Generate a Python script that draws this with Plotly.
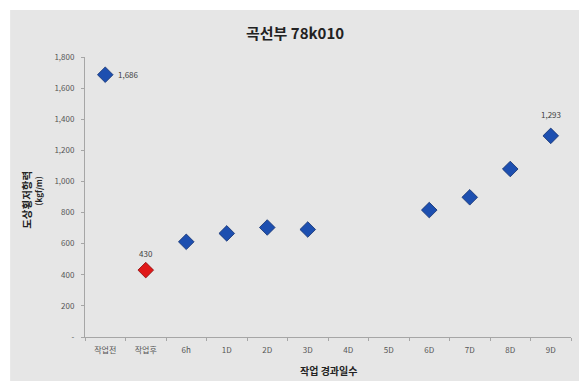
import plotly.graph_objects as go

# Lateral resistance of ballast at curve section 78k010, by elapsed time after work
categories = ["작업전", "작업후", "6h", "1D", "2D", "3D", "4D", "5D", "6D", "7D", "8D", "9D"]
values = [1686, 430, 612, 666, 704, 691, None, None, 816, 898, 1080, 1293]
highlight_colors = {"작업후": "#e01818"}
# value labels: category -> (x offset px, y offset px, anchor)
value_labels = {"작업전": (11, 0, "left"), "작업후": (0, 17, "center"), "9D": (0, 21, "center")}

y_tickvals = [0, 200, 400, 600, 800, 1000, 1200, 1400, 1600, 1800]
y_ticktext = ["-" if v == 0 else f"{v:,}" for v in y_tickvals]

KFONT = "Noto Sans CJK KR, Noto Sans, sans-serif"

xs, ys, colors, lines = [], [], [], []
for c, v in zip(categories, values):
    if v is None:
        continue
    xs.append(c)
    ys.append(v)
    colors.append(highlight_colors.get(c, "#1d4fb0"))
    lines.append("#8a0c0c" if c in highlight_colors else "#12306e")

fig = go.Figure()
fig.add_trace(go.Scatter(
    x=xs, y=ys, mode="markers",
    marker=dict(symbol="diamond", size=12, color=colors,
                line=dict(color=lines, width=0.8)),
    cliponaxis=False, showlegend=False,
))

annotations = [
    dict(text="<b>곡선부 78k010</b>", xref="paper", yref="paper",
         x=0.432, y=1.089, xanchor="center", yanchor="middle", showarrow=False,
         font=dict(size=15, color="#222222", family=KFONT)),
    dict(text="<b>도상횡저항력</b>", xref="paper", yref="paper",
         x=-0.122, y=0.489, textangle=-90, xanchor="center", yanchor="middle",
         showarrow=False, font=dict(size=10.5, color="#222222", family=KFONT)),
    dict(text="<b>(kgf/m)</b>", xref="paper", yref="paper",
         x=-0.096, y=0.521, textangle=-90, xanchor="center", yanchor="middle",
         showarrow=False, font=dict(size=8, color="#222222", family=KFONT)),
    dict(text="<b>작업 경과일수</b>", xref="paper", yref="paper",
         x=0.5, y=-0.118, xanchor="center", yanchor="middle", showarrow=False,
         font=dict(size=10, color="#222222", family=KFONT)),
]
for c, v in zip(categories, values):
    if c in value_labels and v is not None:
        dx, dy, anchor = value_labels[c]
        annotations.append(dict(
            text=f"{v:,}", x=c, y=v, xref="x", yref="y", showarrow=False,
            xshift=dx, yshift=dy, xanchor=anchor, yanchor="middle",
            font=dict(size=8, color="#404040", family=KFONT)))

fig.update_layout(
    width=579, height=383,
    margin=dict(l=85, r=8, t=57, b=46),
    paper_bgcolor="white",
    plot_bgcolor="rgba(0,0,0,0)",
    font=dict(family=KFONT, color="#555555"),
    shapes=[dict(type="rect", xref="paper", yref="paper",
                 x0=-0.154, x1=1.02, y0=-0.157, y1=1.168,
                 fillcolor="#e6e6e6", line=dict(width=0), layer="below")],
    annotations=annotations,
    xaxis=dict(
        type="category", categoryorder="array", categoryarray=categories,
        range=[-0.5, len(categories) - 0.5],
        showgrid=False, zeroline=False,
        showline=True, linecolor="#a6a6a6", linewidth=1,
        ticks="outside", ticklen=3, tickcolor="#a6a6a6",
        tickson="boundaries", ticklabelstandoff=5,
        tickfont=dict(size=8, color="#555555", family=KFONT),
    ),
    yaxis=dict(
        range=[0, 1800], tickvals=y_tickvals, ticktext=y_ticktext,
        showgrid=False, zeroline=False,
        showline=True, linecolor="#a6a6a6", linewidth=1,
        ticks="outside", ticklen=3, tickcolor="#a6a6a6",
        ticklabelstandoff=5,
        tickfont=dict(size=8, color="#555555", family=KFONT),
    ),
)

fig.write_html("out.html")
